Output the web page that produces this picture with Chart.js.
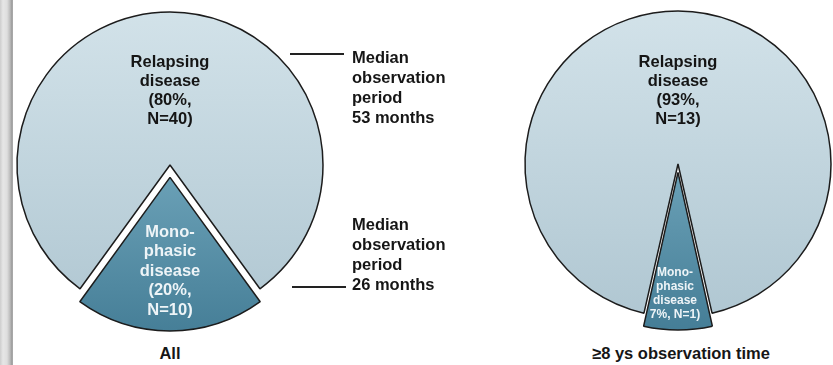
<!DOCTYPE html>
<html>
<head>
<meta charset="utf-8">
<script src="https://cdn.jsdelivr.net/npm/chart.js@4"></script>
<style>
  html, body { margin: 0; padding: 0; background: #fff; }
  body { width: 833px; height: 365px; position: relative; overflow: hidden;
         font-family: "Liberation Sans", Arial, sans-serif; color: #161616; }
  .strip { position: absolute; left: 0; top: 0; width: 13px; height: 365px;
           background: linear-gradient(to right, #cdcdcd 0px, #e6e6e6 3px, #dedede 7px, #bcbcbc 10px, #9a9a9a 12px, #b5b5b5 13px); }
  canvas { position: absolute; }
  .note { position: absolute; font-weight: bold; font-size: 16.5px; line-height: 20px; white-space: nowrap; }
  .lead { position: absolute; height: 1.5px; background: #222; }
  .cap { position: absolute; font-weight: bold; font-size: 16.5px; line-height: 20px; white-space: nowrap;
         transform: translateX(-50%); }
</style>
</head>
<body>
<div class="strip"></div>
<canvas id="pieAll" width="340" height="350" style="left:0px; top:-10px"></canvas>
<canvas id="pieLong" width="340" height="350" style="left:508px; top:-11px"></canvas>

<div class="lead" style="left:290px; top:53px; width:54px"></div>
<div class="note" id="noteRelapse" style="left:352px; top:47px"></div>
<div class="lead" style="left:292px; top:286px; width:54px"></div>
<div class="note" id="noteMono" style="left:352px; top:214px"></div>

<div class="cap" id="capAll" style="left:170px; top:343px"></div>
<div class="cap" id="capLong" style="left:681px; top:343px"></div>

<script>
// Patient groups: relapsing vs. monophasic course
const categories = ['Relapsing disease', 'Monophasic disease'];
const countsAll = [40, 10];          // whole cohort
const countsLong = [13, 1];          // patients followed ≥8 years
const groupTitles = ['All', '≥8 ys observation time'];
const medianMonths = [53, 26];       // median observation period per course

const RADIUS = 153;
const EXPLODE = 13;                  // pixels the monophasic slice is pulled out

function pct(counts, i) {
  const total = counts.reduce((s, v) => s + v, 0);
  return Math.round(counts[i] / total * 100);
}

// Captions and side notes
document.getElementById('capAll').textContent = groupTitles[0];
document.getElementById('capLong').textContent = groupTitles[1];
function fillNote(id, months) {
  const el = document.getElementById(id);
  ['Median', 'observation', 'period', months + ' months'].forEach(t => {
    const d = document.createElement('div'); d.textContent = t; el.appendChild(d);
  });
}
fillNote('noteRelapse', medianMonths[0]);
fillNote('noteMono', medianMonths[1]);

// Vertical shading: light for relapsing, deep teal for monophasic
const shades = [
  { top: '#d2e2e9', bottom: '#b0c7d2', from: -RADIUS, to: RADIUS },
  { top: '#6aa0b6', bottom: '#437c95', from: 0, to: RADIUS + EXPLODE }
];
function sliceFill(c) {
  const s = shades[c.dataIndex] || shades[0];
  const chart = c.chart;
  const area = chart.chartArea;
  if (!area) return s.top;
  const cy = (area.top + area.bottom) / 2;
  const g = chart.ctx.createLinearGradient(0, cy + s.from, 0, cy + s.to);
  g.addColorStop(0, s.top);
  g.addColorStop(1, s.bottom);
  return g;
}

// Text inside the slices, anchored to the pie centre
const sliceLabels = {
  id: 'sliceLabels',
  afterDatasetsDraw(chart, args, opts) {
    const ctx = chart.ctx;
    const arcs = chart.getDatasetMeta(0).data;
    opts.blocks.forEach(b => {
      const a = arcs[b.index];
      ctx.save();
      ctx.font = 'bold ' + b.size + 'px "Liberation Sans", Arial, sans-serif';
      ctx.fillStyle = b.color;
      ctx.textAlign = 'center';
      ctx.textBaseline = 'middle';
      b.lines.forEach((t, k) => ctx.fillText(t, a.x + b.dx, a.y + b.dy + k * b.lh));
      ctx.restore();
    });
  }
};

function makePie(id, counts, blocks) {
  const total = counts.reduce((s, v) => s + v, 0);
  const sweep = (counts[1] / total) * 2 * Math.PI;
  // centre the monophasic slice at the bottom
  const rotation = 180 + (counts[1] / total) * 180;
  // Chart.js moves an arc by offset/4 * (2 - sin(sweep)); solve for EXPLODE pixels
  const explodeOpt = EXPLODE * 4 / (2 - Math.sin(Math.min(Math.PI, sweep)));
  return new Chart(document.getElementById(id), {
    type: 'pie',
    data: {
      labels: categories,
      datasets: [{
        data: counts,
        backgroundColor: sliceFill,
        borderColor: '#1c1c1c',
        borderWidth: 1.5,
        offset: (c) => (c.dataIndex === 1 ? explodeOpt : 0)
      }]
    },
    options: {
      responsive: false,
      animation: false,
      radius: RADIUS,
      rotation: rotation,
      events: [],
      layout: { padding: 0 },
      plugins: {
        legend: { display: false },
        tooltip: { enabled: false },
        sliceLabels: { blocks: blocks }
      }
    },
    plugins: [sliceLabels]
  });
}

makePie('pieAll', countsAll, [
  { index: 0, size: 16.5, color: '#151515', dx: 0, dy: -103, lh: 19,
    lines: ['Relapsing', 'disease', '(' + pct(countsAll, 0) + '%,', 'N=' + countsAll[0] + ')'] },
  { index: 1, size: 16.5, color: '#eef4f7', dx: 0, dy: 67, lh: 19.5,
    lines: ['Mono-', 'phasic', 'disease', '(' + pct(countsAll, 1) + '%,', 'N=' + countsAll[1] + ')'] }
]);

makePie('pieLong', countsLong, [
  { index: 0, size: 16.5, color: '#151515', dx: 0, dy: -102, lh: 19,
    lines: ['Relapsing', 'disease', '(' + pct(countsLong, 0) + '%,', 'N=' + countsLong[0] + ')'] },
  { index: 1, size: 12, color: '#eef4f7', dx: -3, dy: 109, lh: 13.8,
    lines: ['Mono-', 'phasic', 'disease', pct(countsLong, 1) + '%, N=' + countsLong[1] + ')'] }
]);
</script>
</body>
</html>
